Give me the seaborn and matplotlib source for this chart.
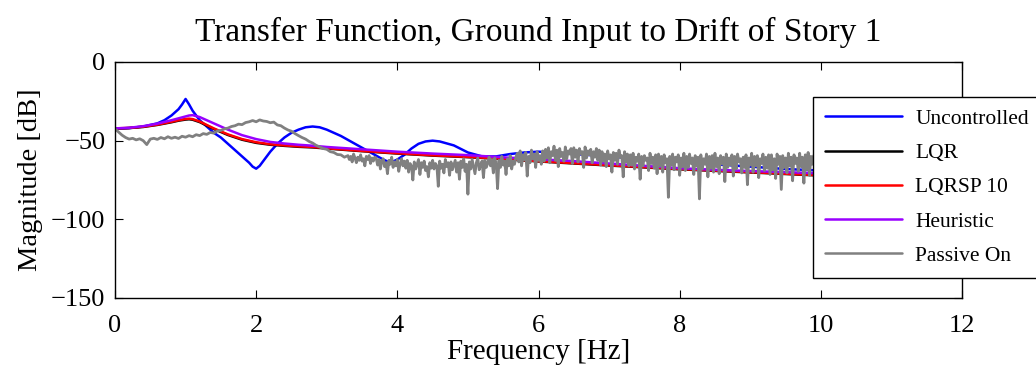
import numpy as np
import pandas as pd
import matplotlib
matplotlib.use("Agg")
import matplotlib.pyplot as plt
import seaborn as sns

# ---------------- data ----------------
title = "Transfer Function, Ground Input to Drift of Story 1"
xlabel = "Frequency [Hz]"
ylabel = "Magnitude [dB]"
series_names = ["Uncontrolled", "LQR", "LQRSP 10", "Heuristic", "Passive On"]
x_ticks = [0, 2, 4, 6, 8, 10, 12]
y_ticks = [-150, -100, -50, 0]

unc_f = [0.0, 0.2, 0.4, 0.6, 0.7, 0.8, 0.9, 0.95, 1.0, 1.05, 1.1, 1.2, 1.3, 1.4, 1.5,
         1.6, 1.7, 1.8, 1.9, 1.95, 2.0, 2.05, 2.1, 2.2, 2.3, 2.4, 2.5, 2.6, 2.7, 2.8,
         2.9, 3.0, 3.2, 3.4, 3.6, 3.8, 3.9, 4.0, 4.1, 4.2, 4.3, 4.4, 4.5, 4.6, 4.8,
         5.0, 5.2, 5.4, 5.6, 5.8, 6.0, 6.2, 6.5, 7.0, 7.5, 8.0, 8.5, 9.0, 9.5, 10.0, 10.5]
unc_db = [-42.5, -42.0, -41.0, -39.0, -37.0, -34.0, -30.0, -27.0, -23.5, -27.0, -31.0,
          -37.0, -41.0, -45.0, -48.0, -52.0, -56.0, -60.0, -64.0, -66.5, -67.8, -66.0,
          -63.0, -57.0, -52.0, -48.0, -45.0, -43.0, -41.5, -41.0, -41.5, -43.0, -47.0,
          -52.0, -57.0, -62.0, -64.0, -62.0, -59.0, -55.0, -52.0, -50.5, -50.0, -50.5,
          -53.0, -57.5, -60.0, -60.0, -58.5, -57.5, -57.0, -57.5, -58.5, -60.0, -62.0,
          -63.5, -65.0, -66.5, -68.0, -69.0, -70.0]

ctl_f = [0.0, 0.2, 0.4, 0.6, 0.8, 0.9, 1.0, 1.05, 1.1, 1.2, 1.3, 1.4, 1.6, 1.8, 2.0,
         2.2, 2.4, 2.6, 2.8, 3.0, 3.5, 4.0, 4.5, 5.0, 5.5, 6.0, 6.5, 7.0, 7.5, 8.0,
         8.5, 9.0, 9.5, 10.0, 10.5]
lqr_db = [-42.3, -42.0, -41.3, -40.0, -38.3, -37.3, -36.6, -36.4, -36.7, -38.2, -40.4,
          -42.6, -46.4, -49.4, -51.4, -52.6, -53.3, -53.9, -54.3, -55.0, -56.7, -58.2,
          -59.5, -60.5, -61.7, -63.2, -64.5, -65.8, -67.0, -68.2, -69.2, -70.2, -71.2,
          -72.2, -73.2]
lqrsp_db = [-42.2, -41.9, -41.1, -39.8, -38.0, -37.0, -36.2, -36.0, -36.3, -37.8, -40.0,
            -42.2, -46.0, -49.0, -51.0, -52.3, -53.0, -53.6, -54.0, -54.8, -56.5, -58.0,
            -59.3, -60.3, -61.5, -63.0, -64.3, -65.6, -66.8, -68.0, -69.0, -70.0, -71.0,
            -72.0, -73.0]
heur_db = [-42.2, -41.8, -40.8, -39.2, -37.0, -35.8, -34.6, -34.0, -33.8, -35.0, -37.0,
           -39.0, -43.0, -46.5, -49.0, -50.8, -51.8, -52.6, -53.2, -54.0, -55.5, -57.0,
           -58.2, -59.2, -60.6, -61.8, -63.0, -64.5, -66.0, -67.5, -68.5, -69.3, -70.0,
           -70.8, -71.5]

# Passive On: 0 - 3.25 Hz every 0.05 Hz, then 3.30 - 10.50 Hz every 0.02 Hz
pas_low_db = [-42.5, -44.5, -46.5, -48.0, -49.0, -48.5, -49.5, -48.8, -50.0, -52.5,
              -49.0, -48.5, -49.2, -48.0, -48.8, -47.5, -48.5, -47.8, -48.6, -47.2,
              -47.8, -46.8, -47.5, -46.2, -46.8, -45.5, -46.0, -44.8, -45.2, -43.8,
              -43.5, -42.5, -42.0, -41.0, -40.5, -39.5, -39.8, -38.5, -38.0, -37.2,
              -38.0, -36.8, -37.5, -37.8, -38.6, -38.2, -40.0, -40.5, -42.0, -43.2,
              -44.0, -45.5, -46.8, -48.0, -49.0, -50.5, -51.5, -53.0, -54.0, -55.0,
              -55.5, -57.0, -57.5, -58.8, -59.0, -60.5]
pas_high_db = [
    -59.5, -62.0, -60.0, -63.5, -58.5, -61.0, -64.0, -60.5, -62.5, -59.0, -63.0, -61.5, -66.0, -60.0, -62.0, -59.5, -64.5, -61.0, -63.0, -60.5,
    -61.0, -65.5, -62.0, -68.0, -63.0, -61.5, -66.5, -64.0, -71.0, -62.5, -65.0, -60.5, -67.0, -63.5, -66.0, -62.0, -69.5, -64.5, -61.5, -66.0,
    -63.0, -67.5, -62.5, -70.0, -64.5, -66.0, -75.0, -63.5, -68.0, -65.0, -62.0, -71.5, -64.0, -67.0, -63.0, -69.0, -66.5, -73.0, -64.0, -67.5,
    -62.5, -68.0, -64.5, -66.0, -79.0, -63.0, -67.5, -65.0, -70.5, -62.0, -66.5, -64.0, -72.0, -63.5, -68.5, -65.5, -62.5, -70.0, -64.0, -74.5,
    -63.0, -67.0, -61.5, -69.5, -65.0, -84.0, -63.5, -68.0, -62.0, -66.5, -71.0, -64.0, -61.0, -68.5, -65.5, -63.0, -73.5, -62.5, -67.0, -64.5,
    -60.5, -66.0, -62.0, -70.5, -61.0, -64.5, -80.5, -62.5, -67.0, -60.0, -65.5, -63.0, -71.5, -61.5, -66.0, -59.5, -68.0, -63.0, -65.0, -60.5,
    -58.0, -63.5, -56.5, -66.0, -59.0, -62.0, -57.5, -72.5, -60.0, -64.0, -56.0, -61.5, -58.5, -67.0, -57.0, -62.5, -59.5, -65.0, -56.5, -63.0,
    -55.5, -61.0, -54.5, -64.0, -57.0, -59.5, -53.5, -62.5, -56.0, -66.5, -55.0, -60.0, -57.5, -63.0, -54.0, -61.5, -56.5, -58.5, -55.0, -64.5,
    -54.5, -60.5, -56.0, -63.5, -55.0, -58.5, -57.0, -67.0, -54.0, -61.0, -56.5, -59.0, -55.5, -64.0, -57.0, -60.5, -55.0, -62.5, -56.0, -65.5,
    -57.0, -63.0, -58.5, -66.5, -56.5, -61.5, -59.0, -70.0, -57.5, -62.5, -58.0, -65.0, -56.0, -60.5, -59.5, -73.0, -57.0, -63.5, -58.5, -66.0,
    -59.0, -65.5, -58.0, -68.0, -60.5, -63.0, -58.5, -74.5, -60.0, -66.0, -59.5, -62.5, -61.0, -69.0, -58.0, -64.5, -60.5, -67.5, -59.0, -71.0,
    -58.5, -66.0, -60.0, -70.0, -59.0, -64.0, -61.5, -86.0, -60.0, -65.5, -58.5, -68.5, -60.5, -63.5, -59.0, -72.0, -61.0, -66.5, -58.0, -69.0,
    -60.0, -67.0, -58.5, -64.5, -61.0, -71.5, -59.5, -66.0, -60.5, -87.0, -59.0, -68.0, -61.5, -65.0, -58.5, -73.0, -60.0, -67.5, -59.5, -70.0,
    -58.0, -66.5, -61.0, -71.0, -59.5, -64.5, -60.5, -76.0, -58.5, -67.0, -61.0, -65.5, -59.0, -72.5, -60.0, -68.0, -58.5, -63.5, -61.5, -70.5,
    -60.5, -67.0, -59.0, -78.0, -61.0, -65.5, -58.0, -70.0, -60.0, -66.0, -59.5, -73.5, -61.5, -64.5, -58.5, -69.0, -60.5, -67.5, -59.0, -71.5,
    -59.0, -68.5, -61.5, -74.0, -58.5, -65.0, -60.0, -81.0, -59.5, -67.0, -61.0, -70.5, -58.0, -66.0, -60.5, -75.5, -59.0, -64.5, -61.0, -69.5,
    -58.0, -66.5, -60.5, -77.0, -59.0, -68.5, -57.5, -72.0, -60.0, -65.0, -59.5, -70.0, -58.5, -74.5, -60.5, -66.5, -59.0, -69.0, -57.5, -67.5,
    -59.5, -71.0, -58.5, -66.5, -60.5, -75.0, -59.0, -68.0, -61.0, -64.5, -58.5, -70.5, -60.0, -67.0, -59.5, -73.0, -61.0, -65.5, -58.0, -69.0,
    -60.0]
pas_low_f = np.linspace(0.0, 3.25, len(pas_low_db))
pas_high_f = np.linspace(3.30, 10.50, len(pas_high_db))

colors = {"Uncontrolled": "#0000ff", "LQR": "#000000", "LQRSP 10": "#ff0000",
          "Heuristic": "#9900ff", "Passive On": "#808080"}
widths = {"Uncontrolled": 1.8, "LQR": 1.8, "LQRSP 10": 1.8, "Heuristic": 1.8,
          "Passive On": 2.0}

# ---------------- plotting ----------------
sns.set_theme(style="white")
plt.rcParams["font.family"] = ["Liberation Serif", "DejaVu Serif"]
plt.rcParams["mathtext.fontset"] = "stix"
plt.rcParams["text.color"] = "black"
plt.rcParams["axes.labelcolor"] = "black"
plt.rcParams["xtick.color"] = "black"
plt.rcParams["ytick.color"] = "black"

fig = plt.figure(figsize=(10.36, 3.67), dpi=100)
ax = fig.add_axes([115 / 1036, 1 - 298 / 367, (962 - 115) / 1036, (298 - 62) / 367])

frames = {
    "Uncontrolled": pd.DataFrame({"f": unc_f, "db": unc_db}),
    "LQR": pd.DataFrame({"f": ctl_f, "db": lqr_db}),
    "LQRSP 10": pd.DataFrame({"f": ctl_f, "db": lqrsp_db}),
    "Heuristic": pd.DataFrame({"f": ctl_f, "db": heur_db}),
    "Passive On": pd.DataFrame({"f": np.concatenate([pas_low_f, pas_high_f]),
                                "db": pas_low_db + pas_high_db}),
}
for name in series_names:
    sns.lineplot(data=frames[name], x="f", y="db", ax=ax, color=colors[name],
                 lw=widths[name], label=name, estimator=None, sort=False)

ax.set_xlim(0, 12)
ax.set_ylim(-150, 0)
ax.set_xticks(x_ticks)
ax.set_yticks(y_ticks)
ax.tick_params(axis="both", which="both", direction="in", length=6, width=0.8,
               bottom=True, left=True, top=True, right=True,
               labelsize=19, colors="black")
ax.tick_params(axis="x", pad=12)
ax.tick_params(axis="y", pad=7)
for s in ax.spines.values():
    s.set_color("black")
    s.set_linewidth(1.0)
ax.set_xlabel(xlabel, fontsize=21, labelpad=2, color="black")
ax.set_ylabel(ylabel, fontsize=20.5, labelpad=6, color="black")
ax.set_title(title, fontsize=24, pad=15, color="black")

leg = ax.legend(loc="upper left", bbox_to_anchor=(813 / 1036, 1 - 97 / 367),
                bbox_transform=fig.transFigure, fontsize=15.5, frameon=True,
                fancybox=False, framealpha=1, edgecolor="black",
                handlelength=3.6, handletextpad=0.6, labelspacing=0.66,
                borderpad=0.55, borderaxespad=0)
leg.get_frame().set_linewidth(1.0)
for line in leg.get_lines():
    line.set_linewidth(1.8)
for t in leg.get_texts():
    t.set_color("black")

fig.savefig("out.png", dpi=100, facecolor="white")
